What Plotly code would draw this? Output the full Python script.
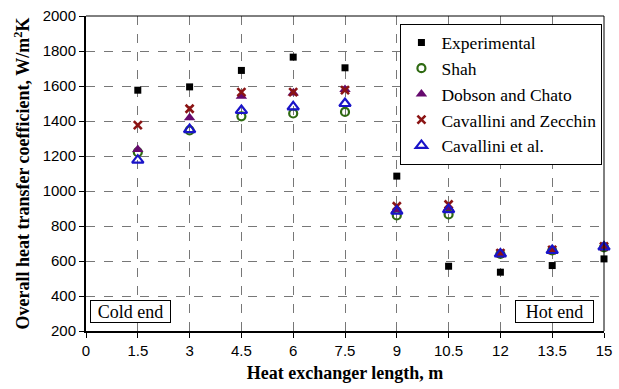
import plotly.graph_objects as go

x = [1.5, 3, 4.5, 6, 7.5, 9, 10.5, 12, 13.5, 15]
experimental = [1576, 1595, 1689, 1765, 1704, 1085, 570, 536, 574, 612]
shah = [1222, 1346, 1427, 1443, 1452, 860, 866, 640, 660, 678]
dobson = [1237, 1418, 1542, 1560, 1580, 894, 904, 643, 662, 681]
cav_zec = [1376, 1470, 1565, 1565, 1576, 913, 923, 645, 664, 683]
cav_al = [1176, 1351, 1460, 1481, 1500, 885, 894, 640, 660, 680]

xticks = [0, 1.5, 3, 4.5, 6, 7.5, 9, 10.5, 12, 13.5, 15]
xticklabels = ["0", "1.5", "3", "4.5", "6", "7.5", "9", "10.5", "12", "13.5", "15"]
yticks = list(range(200, 2001, 200))

SERIF = "Liberation Serif"
SANS = "Liberation Sans"

fig = go.Figure()
series = [
    ("Experimental", experimental, dict(symbol="square", size=7, color="black")),
    ("Shah", shah, dict(symbol="circle-open", size=8, color="#2f6a12", line=dict(width=2.2, color="#2f6a12"))),
    ("Dobson and Chato", dobson, dict(symbol="triangle-up", size=10, color="#660a6e")),
    ("Cavallini and Zecchin", cav_zec, dict(symbol="x-thin-open", size=8, color="#8b1414", line=dict(width=2.6, color="#8b1414"))),
    ("Cavallini et al.", cav_al, dict(symbol="triangle-up-open", size=10, color="#1a14c8", line=dict(width=2.2, color="#1a14c8"))),
]
for name, vals, mk in series:
    fig.add_trace(go.Scatter(x=x, y=vals, mode="markers", name=name, marker=mk, cliponaxis=False))

fig.update_layout(
    width=619, height=389,
    margin=dict(l=86, r=7, t=16, b=58),
    plot_bgcolor="white", paper_bgcolor="white",
    font=dict(family=SERIF, size=15, color="black"),
    showlegend=True,
    legend=dict(x=0.607, y=0.976, xanchor="left", yanchor="top",
                bordercolor="black", borderwidth=1, bgcolor="white",
                tracegroupgap=0, itemwidth=30),
    legend_font_family=SERIF,
    legend_font_size=17.5,
    legend_font_color="black",
    xaxis=dict(range=[0, 15], tickmode="array", tickvals=xticks, ticktext=xticklabels,
               showgrid=True, gridcolor="#777777", griddash="dash", gridwidth=1,
               zeroline=False, showline=True, linecolor="black", linewidth=2, mirror=False,
               ticks="outside", ticklen=5, tickcolor="black", ticklabeloverflow="allow",
               tickfont=dict(family=SANS, size=15, color="black"),
               title=dict(text="<b>Heat exchanger length, m</b>",
                          font=dict(family=SERIF, size=18, color="black"), standoff=8)),
    yaxis=dict(range=[200, 2000], tickmode="array", tickvals=yticks,
               showgrid=True, gridcolor="#777777", griddash="dash", gridwidth=1,
               zeroline=False, showline=True, linecolor="black", linewidth=2,
               ticks="outside", ticklen=5, tickcolor="black",
               tickfont=dict(family=SANS, size=15, color="black"),
               title=dict(text="<b>Overall heat transfer coefficient, W/m<sup>2</sup>K</b>",
                          font=dict(family=SERIF, size=18, color="black"), standoff=8)),
)

# thin top and right frame
fig.add_shape(type="line", xref="paper", yref="paper", x0=0, x1=1, y0=1, y1=1, line=dict(color="black", width=1))
fig.add_shape(type="line", xref="paper", yref="paper", x0=1, x1=1, y0=0, y1=1, line=dict(color="black", width=1))

fig.add_annotation(text="Cold end", xref="paper", yref="paper", x=0.0076, y=0.025, xanchor="left", yanchor="bottom",
                   showarrow=False, bordercolor="black", borderwidth=1, bgcolor="white", borderpad=1,
                   width=77, height=19,
                   font=dict(family=SERIF, size=18, color="black"))
fig.add_annotation(text="Hot end", xref="paper", yref="paper", x=0.980, y=0.025, xanchor="right", yanchor="bottom",
                   showarrow=False, bordercolor="black", borderwidth=1, bgcolor="white", borderpad=1,
                   width=75, height=19,
                   font=dict(family=SERIF, size=18, color="black"))

fig.write_html("out.html")
